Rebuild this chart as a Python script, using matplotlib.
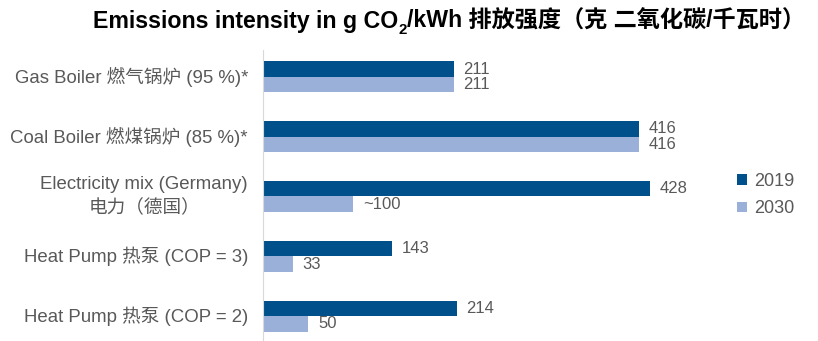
import matplotlib.pyplot as plt
import numpy as np

plt.rcParams['font.family'] = ['Liberation Sans', 'Noto Sans CJK SC', 'DejaVu Sans']

categories = ['Gas Boiler 燃气锅炉 (95 %)*',
              'Coal Boiler 燃煤锅炉 (85 %)*',
              'Electricity mix (Germany)\n电力（德国）',
              'Heat Pump 热泵 (COP = 3)',
              'Heat Pump 热泵 (COP = 2)']
vals_2019 = [211, 416, 428, 143, 214]
vals_2030 = [211, 416, 100, 33, 50]
labels_2019 = ['211', '416', '428', '143', '214']
labels_2030 = ['211', '416', '~100', '33', '50']
series = ['2019', '2030']

c19 = '#00508C'
c30 = '#9AB0D8'
txt = '#595959'

fig = plt.figure(figsize=(8.18, 3.41), dpi=100)
ax = fig.add_axes([263/818, 1/341, 416/818, 290/341])

y = np.arange(len(categories))
h = 0.26
b1 = ax.barh(y - h/2, vals_2019, height=h, color=c19, label=series[0])
b2 = ax.barh(y + h/2, vals_2030, height=h, color=c30, label=series[1])
ax.bar_label(b1, labels=labels_2019, padding=7, fontsize=12, color=txt)
ax.bar_label(b2, labels=labels_2030, padding=7, fontsize=12, color=txt)

ax.set_xlim(0, 460)
ax.set_ylim(4.40, -0.45)
ax.set_yticks([])
ax.set_xticks([])
# category labels as plain texts so the two-line one can be centred
for yi, cat in zip(y, categories):
    ax.text(-15/416, yi, cat, transform=ax.get_yaxis_transform(), ha='right',
            va='center', multialignment='center', fontsize=13.4, color=txt,
            linespacing=1.5)
for s in ['top', 'right', 'bottom']:
    ax.spines[s].set_visible(False)
ax.spines['left'].set_color('#D9D9D9')

fig.legend(handles=[b1, b2], loc='center left', bbox_to_anchor=(721/818, 1 - 195/341),
           frameon=False, fontsize=13, labelcolor=txt, handlelength=0.55,
           handleheight=0.55, handletextpad=0.4, labelspacing=0.6)

# title in pieces so that the subscript 2 works with the CJK text
tsize = 16.7
base = 1 - 28/341
t1 = fig.text(93/818, base, 'Emissions intensity in g CO', ha='left', va='baseline',
              fontsize=tsize, fontweight='bold', color='black')
t2 = fig.text(0, 0, '2', fontsize=tsize * 0.65, fontweight='bold', color='black',
              ha='left', va='baseline')
t3 = fig.text(0, 0, '/kWh 排放强度（克 二氧化碳/千瓦时）', fontsize=tsize, fontweight='bold',
              color='black', ha='left', va='baseline')
fig.canvas.draw()
r = fig.canvas.get_renderer()
bb1 = t1.get_window_extent(r)
t2.set_position((bb1.x1 / 818, base - 6/341))
fig.canvas.draw()
bb2 = t2.get_window_extent(r)
t3.set_position((bb2.x1 / 818, base))

fig.savefig('out.png', dpi=100)
